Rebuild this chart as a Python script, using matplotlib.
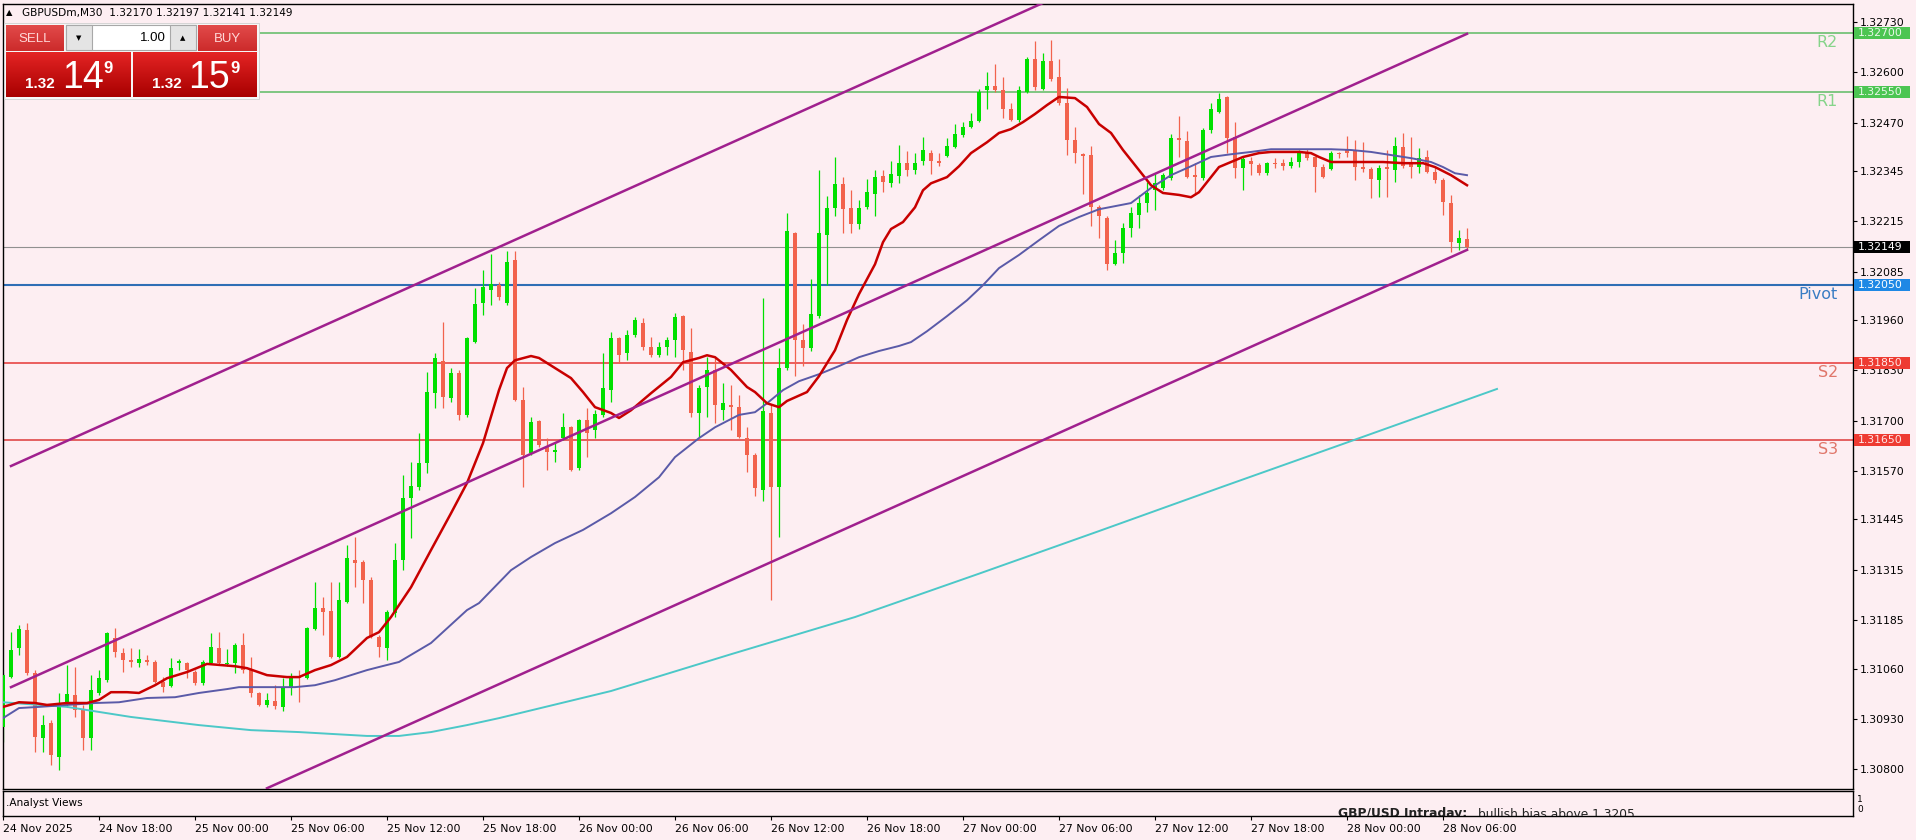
import numpy as np
import matplotlib.pyplot as plt
from matplotlib.colors import LinearSegmentedColormap
from matplotlib.patches import Rectangle

# ---- GBPUSDm M30 bars (24 Nov 12:00 .. 28 Nov 07:30) ----
opens = [1.30909, 1.31038, 1.31113, 1.31159, 1.31048, 1.30880, 1.30919, 1.30831, 1.30971, 1.30992,
         1.30953, 1.30880, 1.30997, 1.31030, 1.31139, 1.31100, 1.31082, 1.31074, 1.31082, 1.31077,
         1.31025, 1.31015, 1.31074, 1.31074, 1.31051, 1.31023, 1.31074, 1.31113, 1.31072, 1.31074,
         1.31121, 1.31056, 1.30997, 1.30966, 1.30976, 1.30961, 1.31012, 1.31038, 1.31035, 1.31162,
         1.31216, 1.31208, 1.31090, 1.31232, 1.31340, 1.31335, 1.31288, 1.31141, 1.31113, 1.31203,
         1.31340, 1.31500, 1.31529, 1.31591, 1.31771, 1.31854, 1.31758, 1.31823, 1.31715, 1.31903,
         1.32004, 1.32037, 1.32050, 1.32004, 1.32115, 1.31753, 1.31616, 1.31699, 1.31632, 1.31619,
         1.31655, 1.31683, 1.31578, 1.31702, 1.31676, 1.31715, 1.31779, 1.31913, 1.31875, 1.31921,
         1.31952, 1.31890, 1.31869, 1.31890, 1.31908, 1.31970, 1.31877, 1.31720, 1.31787, 1.31831,
         1.31727, 1.31740, 1.31735, 1.31655, 1.31611, 1.31521, 1.31720, 1.31529, 1.31836, 1.32184,
         1.31908, 1.31888, 1.31970, 1.32179, 1.32249, 1.32311, 1.32249, 1.32208, 1.32251, 1.32285,
         1.32332, 1.32314, 1.32332, 1.32365, 1.32347, 1.32370, 1.32391, 1.32370, 1.32383, 1.32406,
         1.32437, 1.32458, 1.32474, 1.32554, 1.32564, 1.32554, 1.32505, 1.32476, 1.32548, 1.32634,
         1.32556, 1.32628, 1.32587, 1.32520, 1.32424, 1.32388, 1.32386, 1.32251, 1.32223, 1.32104,
         1.32133, 1.32197, 1.32231, 1.32262, 1.32295, 1.32301, 1.32326, 1.32430, 1.32422, 1.32334,
         1.32326, 1.32450, 1.32497, 1.32535, 1.32432, 1.32352, 1.32370, 1.32360, 1.32339, 1.32365,
         1.32365, 1.32357, 1.32368, 1.32393, 1.32381, 1.32355, 1.32350, 1.32391, 1.32401, 1.32396,
         1.32355, 1.32350, 1.32321, 1.32355, 1.32347, 1.32406, 1.32368, 1.32355, 1.32381, 1.32342,
         1.32321, 1.32262, 1.32159, 1.32170]
highs = [1.31048, 1.31154, 1.31172, 1.31177, 1.31056, 1.30940, 1.30927, 1.30997, 1.31069, 1.31064,
         1.30966, 1.31043, 1.31056, 1.31154, 1.31165, 1.31113, 1.31113, 1.31110, 1.31095, 1.31082,
         1.31038, 1.31087, 1.31085, 1.31077, 1.31056, 1.31082, 1.31152, 1.31154, 1.31110, 1.31126,
         1.31152, 1.31090, 1.30999, 1.30997, 1.31017, 1.31035, 1.31048, 1.31056, 1.31167, 1.31283,
         1.31245, 1.31283, 1.31283, 1.31379, 1.31400, 1.31340, 1.31296, 1.31146, 1.31211, 1.31384,
         1.31560, 1.31593, 1.31668, 1.31826, 1.31875, 1.31955, 1.31836, 1.31831, 1.31916, 1.32042,
         1.32089, 1.32130, 1.32058, 1.32138, 1.32138, 1.31787, 1.31709, 1.31702, 1.31655, 1.31645,
         1.31720, 1.31686, 1.31704, 1.31733, 1.31727, 1.31875, 1.31929, 1.31916, 1.31934, 1.31968,
         1.31965, 1.31916, 1.31903, 1.31916, 1.31978, 1.31973, 1.31939, 1.31792, 1.31864, 1.31862,
         1.31797, 1.31792, 1.31766, 1.31683, 1.31616, 1.32017, 1.31740, 1.31888, 1.32236, 1.32187,
         1.31949, 1.32066, 1.32347, 1.32280, 1.32381, 1.32329, 1.32295, 1.32270, 1.32324, 1.32347,
         1.32347, 1.32370, 1.32412, 1.32396, 1.32391, 1.32432, 1.32399, 1.32391, 1.32430, 1.32466,
         1.32471, 1.32494, 1.32556, 1.32600, 1.32621, 1.32587, 1.32520, 1.32564, 1.32639, 1.32680,
         1.32649, 1.32683, 1.32634, 1.32559, 1.32458, 1.32391, 1.32409, 1.32257, 1.32228, 1.32166,
         1.32210, 1.32251, 1.32282, 1.32316, 1.32339, 1.32339, 1.32440, 1.32487, 1.32448, 1.32365,
         1.32455, 1.32520, 1.32546, 1.32538, 1.32471, 1.32381, 1.32381, 1.32365, 1.32368, 1.32378,
         1.32375, 1.32381, 1.32399, 1.32401, 1.32383, 1.32363, 1.32396, 1.32393, 1.32435, 1.32424,
         1.32419, 1.32355, 1.32360, 1.32399, 1.32432, 1.32443, 1.32432, 1.32404, 1.32399, 1.32355,
         1.32326, 1.32282, 1.32192, 1.32197]
lows = [1.30870, 1.31035, 1.31095, 1.31043, 1.30844, 1.30844, 1.30811, 1.30798, 1.30961, 1.30935,
        1.30850, 1.30850, 1.30992, 1.31025, 1.31090, 1.31051, 1.31064, 1.31064, 1.31069, 1.31023,
        1.30999, 1.31012, 1.31056, 1.31035, 1.31017, 1.31017, 1.31072, 1.31069, 1.31066, 1.31048,
        1.31048, 1.30986, 1.30963, 1.30961, 1.30955, 1.30950, 1.30992, 1.30973, 1.31033, 1.31159,
        1.31146, 1.31087, 1.31087, 1.31229, 1.31270, 1.31229, 1.31139, 1.31090, 1.31082, 1.31193,
        1.31314, 1.31397, 1.31521, 1.31565, 1.31733, 1.31733, 1.31748, 1.31702, 1.31709, 1.31900,
        1.31973, 1.31999, 1.32011, 1.31999, 1.31751, 1.31529, 1.31611, 1.31632, 1.31573, 1.31593,
        1.31650, 1.31570, 1.31573, 1.31606, 1.31655, 1.31709, 1.31748, 1.31849, 1.31856, 1.31916,
        1.31882, 1.31864, 1.31864, 1.31869, 1.31864, 1.31831, 1.31709, 1.31658, 1.31709, 1.31694,
        1.31702, 1.31676, 1.31655, 1.31567, 1.31505, 1.31492, 1.31237, 1.31400, 1.31831, 1.31815,
        1.31841, 1.31880, 1.31965, 1.32050, 1.32228, 1.32184, 1.32184, 1.32195, 1.32246, 1.32228,
        1.32290, 1.32303, 1.32314, 1.32332, 1.32337, 1.32360, 1.32337, 1.32357, 1.32381, 1.32404,
        1.32432, 1.32455, 1.32471, 1.32505, 1.32548, 1.32481, 1.32474, 1.32471, 1.32546, 1.32554,
        1.32554, 1.32577, 1.32515, 1.32386, 1.32365, 1.32285, 1.32203, 1.32172, 1.32089, 1.32102,
        1.32107, 1.32174, 1.32197, 1.32239, 1.32244, 1.32295, 1.32321, 1.32381, 1.32326, 1.32282,
        1.32321, 1.32443, 1.32494, 1.32391, 1.32326, 1.32295, 1.32334, 1.32334, 1.32334, 1.32352,
        1.32347, 1.32352, 1.32355, 1.32373, 1.32290, 1.32326, 1.32347, 1.32378, 1.32381, 1.32321,
        1.32342, 1.32275, 1.32277, 1.32277, 1.32316, 1.32352, 1.32326, 1.32339, 1.32339, 1.32314,
        1.32231, 1.32135, 1.32141, 1.32141]
closes = [1.31043, 1.31108, 1.31162, 1.31048, 1.30883, 1.30914, 1.30837, 1.30971, 1.30994, 1.30953,
          1.30880, 1.31004, 1.31035, 1.31152, 1.31103, 1.31082, 1.31077, 1.31085, 1.31077, 1.31025,
          1.31012, 1.31061, 1.31079, 1.31056, 1.31023, 1.31077, 1.31115, 1.31074, 1.31074, 1.31121,
          1.31056, 1.30997, 1.30966, 1.30979, 1.30963, 1.31012, 1.31038, 1.31035, 1.31165, 1.31216,
          1.31206, 1.31090, 1.31237, 1.31345, 1.31332, 1.31288, 1.31141, 1.31115, 1.31206, 1.31340,
          1.31500, 1.31531, 1.31591, 1.31774, 1.31862, 1.31761, 1.31823, 1.31715, 1.31913, 1.32001,
          1.32045, 1.32053, 1.32019, 1.32110, 1.31753, 1.31611, 1.31696, 1.31637, 1.31619, 1.31624,
          1.31683, 1.31573, 1.31702, 1.31668, 1.31717, 1.31784, 1.31913, 1.31869, 1.31921, 1.31960,
          1.31890, 1.31869, 1.31890, 1.31908, 1.31968, 1.31882, 1.31720, 1.31784, 1.31831, 1.31740,
          1.31745, 1.31735, 1.31658, 1.31611, 1.31526, 1.31725, 1.31529, 1.31836, 1.32190, 1.31908,
          1.31888, 1.31975, 1.32184, 1.32249, 1.32311, 1.32246, 1.32208, 1.32249, 1.32290, 1.32329,
          1.32316, 1.32337, 1.32365, 1.32347, 1.32365, 1.32399, 1.32370, 1.32365, 1.32409, 1.32440,
          1.32458, 1.32474, 1.32548, 1.32564, 1.32554, 1.32505, 1.32476, 1.32554, 1.32634, 1.32561,
          1.32628, 1.32582, 1.32520, 1.32424, 1.32391, 1.32383, 1.32251, 1.32228, 1.32104, 1.32133,
          1.32197, 1.32236, 1.32262, 1.32288, 1.32314, 1.32334, 1.32430, 1.32424, 1.32329, 1.32329,
          1.32450, 1.32505, 1.32530, 1.32430, 1.32352, 1.32375, 1.32363, 1.32339, 1.32365, 1.32363,
          1.32357, 1.32368, 1.32391, 1.32378, 1.32355, 1.32329, 1.32391, 1.32388, 1.32391, 1.32355,
          1.32350, 1.32324, 1.32352, 1.32350, 1.32409, 1.32357, 1.32355, 1.32378, 1.32342, 1.32321,
          1.32264, 1.32161, 1.32172, 1.32149]

# moving averages as shown on the chart (bar number, price)
fast_ma_bar = [0, 2, 4, 5.5, 8, 10.5, 12, 13.5, 15.5, 17, 19, 20.5, 23, 25.5, 29, 30.5, 33, 35.5, 37, 39,
               41, 43, 45.5, 47, 48.5, 51, 53.5, 56, 58, 60, 62, 63, 64, 66, 67, 69, 71, 72.5, 74, 76,
               77, 78.5, 81, 83.5, 85, 87, 88, 89, 91, 93, 94, 95.5, 97, 98, 100.5, 102, 104, 105.5, 107, 109,
               110, 111, 112.5, 114, 115, 116, 118, 119.5, 121, 123, 124.5, 126, 127.5, 129, 130.5, 132, 134,
               135.5, 137, 138.5, 140, 142, 143.5, 145, 147, 148.5, 149.5, 151, 152, 153.5, 155, 157, 158.5,
               162, 163.5, 164.5, 166, 167.5, 172.5, 175, 177.5, 179, 181, 183]
fast_ma = [1.30961, 1.30973, 1.30971, 1.30966, 1.30971, 1.30971, 1.30979, 1.30999, 1.30999, 1.30997,
           1.31017, 1.31035, 1.31051, 1.31072, 1.31066, 1.31061, 1.31043, 1.31038, 1.31038, 1.31056,
           1.31069, 1.31090, 1.31139, 1.31154, 1.31193, 1.31270, 1.31366, 1.31461, 1.31539, 1.31642,
           1.31779, 1.31836, 1.31856, 1.31867, 1.31862, 1.31836, 1.31810, 1.31774, 1.31735, 1.31720,
           1.31707, 1.31727, 1.31771, 1.31813, 1.31851, 1.31862, 1.31869, 1.31864, 1.31831, 1.31787,
           1.31774, 1.31745, 1.31735, 1.31751, 1.31774, 1.31815, 1.31882, 1.31960, 1.32027, 1.32104,
           1.32161, 1.32195, 1.32213, 1.32251, 1.32295, 1.32313, 1.32329, 1.32357, 1.32391, 1.32419,
           1.32443, 1.32453, 1.32471, 1.32492, 1.32515, 1.32536, 1.32533, 1.32510, 1.32466, 1.32443,
           1.32399, 1.32347, 1.32308, 1.32288, 1.32283, 1.32277, 1.32290, 1.32329, 1.32355, 1.32368,
           1.32381, 1.32391, 1.32394, 1.32394, 1.32391, 1.32381, 1.32368, 1.32368, 1.32368, 1.32365,
           1.32365, 1.32355, 1.32334, 1.32308]
mid_ma_bar = [0, 2, 4.5, 8, 11.5, 14.5, 18, 21.5, 24.5, 28, 29.5, 36.5, 39, 41.5, 43.5, 45.5, 47, 49.5,
              53.5, 58, 59.5, 63.5, 66, 69, 72.5, 76, 79, 82, 84, 87, 89, 92, 94, 95.5, 97.5, 99.5, 102,
              104.5, 107, 109.5, 112, 113.5, 115.5, 118, 120.5, 122.5, 124.5, 127, 129.5, 132, 134.5, 137,
              141, 143.5, 146, 148.5, 151, 153.5, 156, 158.5, 166, 168.5, 171, 173.5, 176, 178.5, 180,
              181.5, 183]
mid_ma = [1.30932, 1.30958, 1.30961, 1.30966, 1.30971, 1.30973, 1.30984, 1.30986, 1.30997, 1.31007,
          1.31012, 1.31012, 1.31017, 1.31030, 1.31043, 1.31056, 1.31064, 1.31077, 1.31126, 1.31211,
          1.31229, 1.31314, 1.31348, 1.31384, 1.31418, 1.31461, 1.31503, 1.31554, 1.31606, 1.31655,
          1.31683, 1.31715, 1.31722, 1.31745, 1.31779, 1.31802, 1.31820, 1.31841, 1.31864, 1.31880,
          1.31893, 1.31903, 1.31931, 1.31970, 1.32011, 1.32050, 1.32094, 1.32128, 1.32166, 1.32203,
          1.32226, 1.32246, 1.32262, 1.32301, 1.32334, 1.32357, 1.32381, 1.32388, 1.32394, 1.32401,
          1.32401, 1.32399, 1.32394, 1.32386, 1.32378, 1.32368, 1.32355, 1.32339, 1.32334]
slow_ma_bar = [0, 8, 12, 16, 24.5, 31, 37, 45.5, 49.5, 53.5, 58, 62, 76, 91, 106.5, 122, 137, 152.5,
               167.5, 186.75]
slow_ma = [1.30973, 1.30961, 1.30948, 1.30935, 1.30914, 1.30901, 1.30896, 1.30886, 1.30886, 1.30896,
           1.30914, 1.30932, 1.31002, 1.31097, 1.31193, 1.31305, 1.31415, 1.31530, 1.31640, 1.31782]

# channel lines (start bar, start price, end bar, end price)
channels = [(1, 1.31583, 183, 1.33270),
            (1, 1.31012, 183, 1.32699),
            (33, 1.30751, 183, 1.32141)]

level_names = ['R2', 'R1', 'Pivot', 'S2', 'S3']
level_prices = [1.32700, 1.32550, 1.32050, 1.31850, 1.31650]
last_price = 1.32149

price_ticks = [1.32730, 1.32600, 1.32470, 1.32345, 1.32215, 1.32085, 1.31960, 1.31830,
               1.31700, 1.31570, 1.31445, 1.31315, 1.31185, 1.31060, 1.30930, 1.30800]
date_ticks = [0, 12, 24, 36, 48, 60, 72, 84, 96, 108, 120, 132, 144, 156, 168, 180]
date_labels = ['24 Nov 2025', '24 Nov 18:00', '25 Nov 00:00', '25 Nov 06:00', '25 Nov 12:00',
               '25 Nov 18:00', '26 Nov 00:00', '26 Nov 06:00', '26 Nov 12:00', '26 Nov 18:00',
               '27 Nov 00:00', '27 Nov 06:00', '27 Nov 12:00', '27 Nov 18:00', '28 Nov 00:00',
               '28 Nov 06:00']

# ---------------------------------------------------------------------------------
W, H = 1916, 840
BG = '#FDEEF2'
UP, DOWN = '#00E000', '#F2634D'
plt.rcParams['font.family'] = ['DejaVu Sans']


def rect(x0, y0, x1, y1):
    # pixel box (top-left origin) -> figure fraction
    return [x0 / W, 1 - y1 / H, (x1 - x0) / W, (y1 - y0) / H]


fig = plt.figure(figsize=(W / 100, H / 100), dpi=100, facecolor=BG)
ax = fig.add_axes(rect(3, 4, 1853, 789), facecolor=BG)
sub = fig.add_axes(rect(3, 791, 1853, 816), facecolor=BG)

bars = np.arange(len(opens))
o = np.array(opens)
c = np.array(closes)
cols = [UP if cc >= oo else DOWN for oo, cc in zip(o, c)]

# horizontal levels
lvl_line = ['#5DBB63', '#5DBB63', '#2F6EB5', '#E84545', '#E04848']
lvl_text = ['#86D48A', '#86D48A', '#3A7DC4', '#E0766A', '#E0766A']
lvl_box = ['#4CC552', '#4CC552', '#1E88E5', '#EE3B32', '#EE3B32']
for p, lc, lw in zip(level_prices, lvl_line, [1.1, 1.1, 1.5, 1.2, 1.2]):
    ax.axhline(p, color=lc, lw=lw, zorder=1)
ax.axhline(last_price, color='#909090', lw=0.8, zorder=1)

# candles
ax.vlines(bars, lows, highs, colors=cols, lw=0.9, zorder=2)
body = np.maximum(np.abs(c - o), 0.00002)
ax.bar(bars, body, bottom=np.minimum(o, c), width=0.62, color=cols, lw=0, zorder=3)

# moving averages
ax.plot(slow_ma_bar, slow_ma, color='#4CC8C8', lw=1.4, zorder=4)
ax.plot(mid_ma_bar, mid_ma, color='#5A5AA8', lw=1.4, zorder=4)
ax.plot(fast_ma_bar, fast_ma, color='#C80000', lw=1.8, zorder=4)

# channel
for b0, p0, b1, p1 in channels:
    ax.plot([b0, b1], [p0, p1], color='#A0208E', lw=1.8, zorder=5)

ax.set_xlim(0, 231.25)
ax.set_ylim(1.30749, 1.32776)
ax.set_xticks([])
ax.yaxis.tick_right()
ax.set_yticks(price_ticks)
ax.set_yticklabels(['%.5f' % t for t in price_ticks])
ax.tick_params(axis='y', direction='out', length=3, width=0.8, pad=2, labelsize=7.8, colors='black')
for s in ax.spines.values():
    s.set_linewidth(1)

# level names + price boxes on the right scale
ytr = ax.get_yaxis_transform()
half = 6 * (1.32776 - 1.30749) / 785
for name, p, tc in zip(level_names, level_prices, lvl_text):
    ax.text(1 - 15 / 1850, p - half / 3, name, transform=ytr, ha='right', va='top',
            fontsize=11.5, color=tc, zorder=6)
for p, bc, tc in zip(level_prices + [last_price], lvl_box + ['black'],
                     ['#EAF8EA', '#EAF8EA', 'white', '#FFE6E6', '#FFE6E6', 'white']):
    ax.add_patch(Rectangle((1 + 1 / 1850, p - half), 56 / 1850, 2 * half, transform=ytr,
                           facecolor=bc, edgecolor='none', clip_on=False, zorder=7))
    ax.text(1 + 5 / 1850, p, '%.5f' % p, transform=ytr, ha='left', va='center',
            fontsize=7.8, color=tc, clip_on=False, zorder=8)

# header
fig.text(6 / W, 1 - 13 / H, '\u25b2', fontsize=6, va='center')
fig.text(22 / W, 1 - 13 / H, 'GBPUSDm,M30  1.32170 1.32197 1.32141 1.32149', fontsize=7.6, va='center')

# indicator sub-window
sub.set_xlim(0, 231.25)
sub.set_ylim(0, 1)
sub.set_yticks([])
sub.set_xticks(date_ticks)
sub.set_xticklabels(date_labels, ha='left')
sub.tick_params(axis='x', direction='out', length=3, width=0.8, pad=3, labelsize=7.8)
for s in sub.spines.values():
    s.set_linewidth(1)
sub.text(3 / 1850, 0.52, '.Analyst Views', transform=sub.transAxes, fontsize=7.6, va='center')
sub.text(1335 / 1850, 0.08, 'GBP/USD Intraday:', transform=sub.transAxes, fontsize=8.8,
         fontweight='bold', va='center', color='#222222', clip_on=True)
sub.text(1475 / 1850, 0.08, 'bullish bias above 1.3205.', transform=sub.transAxes, fontsize=8.8,
         va='center', color='#222222', clip_on=True)
fig.text(1857 / W, 1 - 799 / H, '1', fontsize=6.5, va='center')
fig.text(1857 / W, 1 - 809 / H, '0', fontsize=6.5, va='center')

# one-click trading panel
pax = fig.add_axes(rect(0, 20, 262, 100), zorder=10)
pax.axis('off')


def grad(x0, y0, x1, y1, top, bottom):
    cm = LinearSegmentedColormap.from_list('g', [top, bottom])
    pax.imshow(np.linspace(0, 1, 64).reshape(-1, 1), cmap=cm, aspect='auto', zorder=2,
               extent=(x0, x1, y1, y0), interpolation='bilinear')


pax.add_patch(Rectangle((4, 23), 255, 76, facecolor='#F6F6F6', edgecolor='#D0D0D0', lw=0.6, zorder=1))
grad(6, 25, 64, 51, '#E24A4A', '#CC2B2B')
grad(198, 25, 257, 51, '#E24A4A', '#CC2B2B')
pax.add_patch(Rectangle((66, 25), 130, 25, facecolor='white', edgecolor='#A8A8A8', lw=0.8, zorder=3))
pax.add_patch(Rectangle((66, 25), 26, 25, facecolor='#E4E4E4', edgecolor='#A8A8A8', lw=0.8, zorder=3))
pax.add_patch(Rectangle((170, 25), 26, 25, facecolor='#E4E4E4', edgecolor='#A8A8A8', lw=0.8, zorder=3))
grad(6, 52, 131, 97, '#E42424', '#A80000')
grad(133, 52, 257, 97, '#E42424', '#A80000')
tk = dict(zorder=5, family='Liberation Sans')
pax.text(35, 38.5, 'SELL', ha='center', va='center', fontsize=9.5, color='#FFD8D8', **tk)
pax.text(227, 38.5, 'BUY', ha='center', va='center', fontsize=9.5, color='#FFD8D8', **tk)
pax.text(79, 38, '\u25bc', ha='center', va='center', fontsize=5, zorder=5)
pax.text(183, 38, '\u25b2', ha='center', va='center', fontsize=5, zorder=5)
pax.text(166, 38, '1.00', ha='right', va='center', fontsize=9.5, **tk)
for x_small, x_big, x_sup, big in [(25, 62, 103, '14'), (152, 188, 230, '15')]:
    pax.text(x_small, 88, '1.32', fontsize=11, fontweight='bold', color='white', va='baseline', **tk)
    pax.text(x_big, 88, big, fontsize=27, color='white', va='baseline', **tk)
    pax.text(x_sup, 73, '9', fontsize=12, fontweight='bold', color='white', va='baseline', **tk)
pax.set_xlim(0, 262)
pax.set_ylim(100, 20)

fig.savefig('out.png', dpi=100, facecolor=BG)
